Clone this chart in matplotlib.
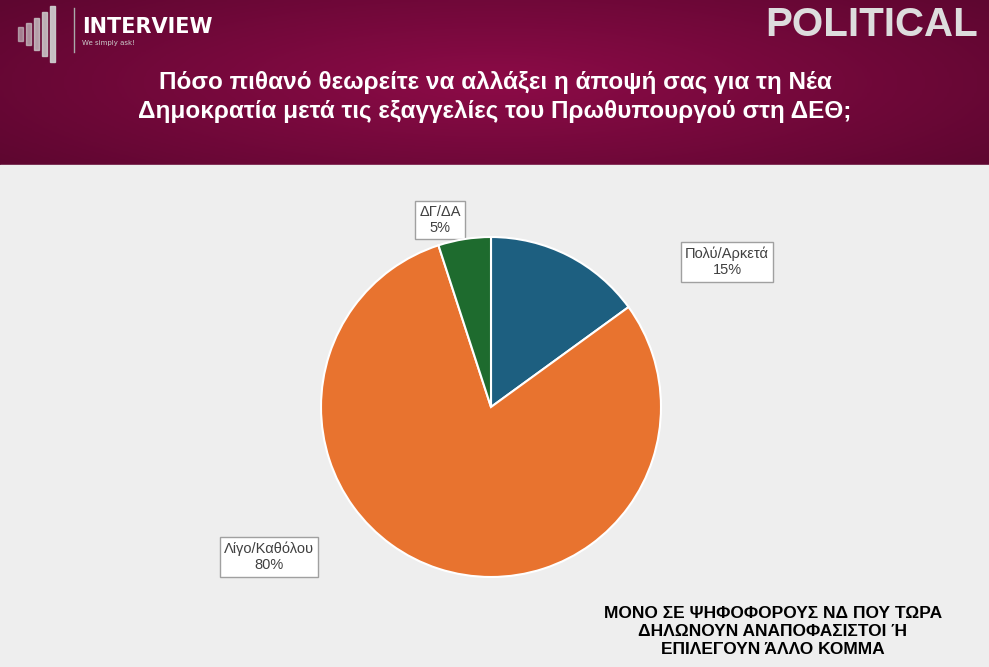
import numpy as np
import matplotlib.pyplot as plt
from matplotlib.colors import LinearSegmentedColormap

labels = ['Πολύ/Αρκετά', 'Λίγο/Καθόλου', 'ΔΓ/ΔΑ']
values = [15, 80, 5]
colors = ['#1d5f80', '#e8732f', '#1e6b2e']
label_pos = [(727, 262), (269, 557), (440, 220)]

title = 'Πόσο πιθανό θεωρείτε να αλλάξει η άποψή σας για τη Νέα\nΔημοκρατία μετά τις εξαγγελίες του Πρωθυπουργού στη ΔΕΘ;'
note = 'ΜΟΝΟ ΣΕ ΨΗΦΟΦΟΡΟΥΣ ΝΔ ΠΟΥ ΤΩΡΑ\nΔΗΛΩΝΟΥΝ ΑΝΑΠΟΦΑΣΙΣΤΟΙ Ή\nΕΠΙΛΕΓΟΥΝ ΆΛΛΟ ΚΟΜΜΑ'

W, H = 989, 667
fig = plt.figure(figsize=(W / 100, H / 100), dpi=100)

# background
bg = fig.add_axes([0, 0, 1, 1])
bg.set_xlim(0, W)
bg.set_ylim(H, 0)
bg.axis('off')
bg.add_patch(plt.Rectangle((0, 165), W, H - 165, color='#eeeeee'))
xx = np.linspace(-1, 1, 400)
yy = np.linspace(-1, 1, 80)
X, Y = np.meshgrid(xx, yy)
grad = 1 - np.clip(np.sqrt((X * 0.8) ** 2 + (Y * 0.6) ** 2), 0, 1)
cmap = LinearSegmentedColormap.from_list('m', ['#5e0630', '#8c0b47'])
bg.imshow(grad, cmap=cmap, extent=(0, W, 165, 0), aspect='auto')

# logo
for i, (h, x) in enumerate(zip([14, 22, 32, 44, 56], [18, 26, 34, 42, 50])):
    bg.add_patch(plt.Rectangle((x, 28 - h / 2 + 6), 5, h, color='#cfcfcf', alpha=0.6 + i * 0.08))
bg.plot([74, 74], [8, 52], color='#aaaaaa', lw=1)
bg.text(82, 27, 'INTERVIEW', color='white', fontsize=15, fontweight='bold', va='center')
bg.text(82, 43, 'We simply ask!', color='#cccccc', fontsize=5, va='center')
bg.text(978, 25, 'POLITICAL', color='#dddddd', fontsize=29, fontweight='bold',
        ha='right', va='center', family='Liberation Sans')

bg.text(495, 97, title, color='white', fontsize=17.5, fontweight='bold',
        ha='center', va='center', family='Liberation Sans', linespacing=1.3)
bg.text(773, 632, note, color='black', fontsize=12.5, fontweight='bold',
        ha='center', va='center', family='Liberation Sans', linespacing=1.25)

# pie
cx, cy, r = 491, 407, 170
ax = fig.add_axes([(cx - r) / W, (H - cy - r) / H, 2 * r / W, 2 * r / H])
ax.pie(values, colors=colors, startangle=90, counterclock=False, radius=1,
       wedgeprops=dict(edgecolor='white', linewidth=1.5))
ax.set_xlim(-1, 1)
ax.set_ylim(-1, 1)
ax.set_aspect('equal')

for lab, v, (px, py) in zip(labels, values, label_pos):
    bg.text(px, py, f'{lab}\n{v}%', ha='center', va='center', fontsize=10.5,
            color='#404040', family='Liberation Sans', linespacing=1.2,
            bbox=dict(boxstyle='square,pad=0.3', fc='white', ec='#a0a0a0', lw=1))

fig.savefig('out.png', dpi=100)
